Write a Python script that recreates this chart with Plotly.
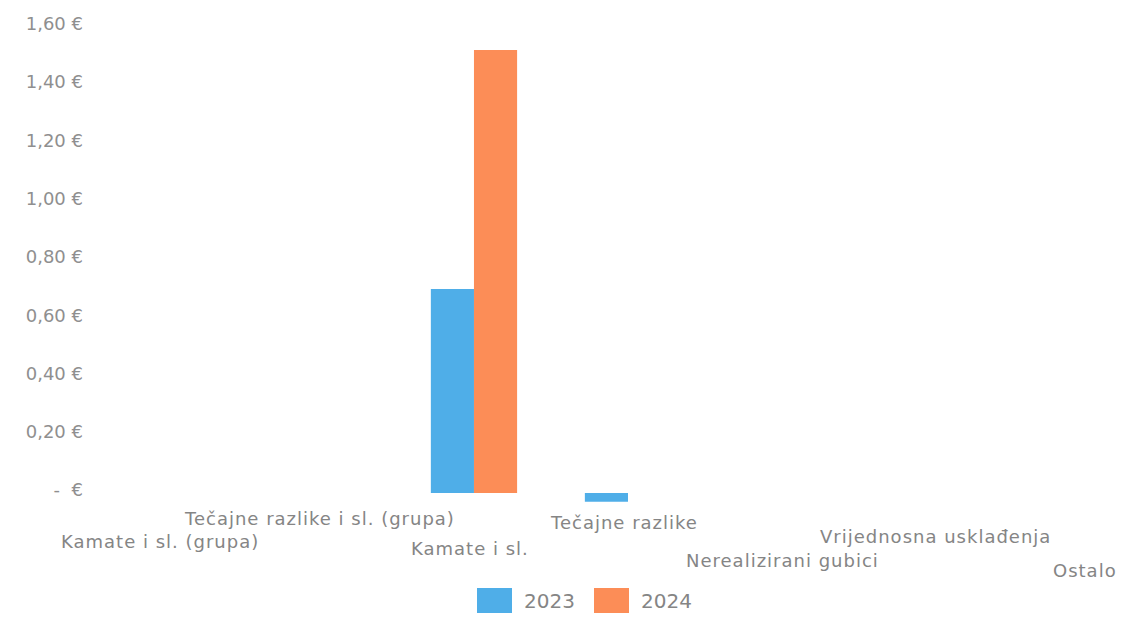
import plotly.graph_objects as go

categories = ["Kamate i sl. (grupa)", "Tečajne razlike i sl. (grupa)", "Kamate i sl.",
              "Tečajne razlike", "Nerealizirani gubici", "Vrijednosna usklađenja", "Ostalo"]
series_names = ["2023", "2024"]
values_2023 = [0, 0, 0.70, -0.03, 0, 0, 0]
values_2024 = [0, 0, 1.52, 0, 0, 0, 0]
tick_vals = [0, 0.2, 0.4, 0.6, 0.8, 1.0, 1.2, 1.4, 1.6]
tick_text = ["-  €", "0,20 €", "0,40 €", "0,60 €", "0,80 €", "1,00 €", "1,20 €", "1,40 €", "1,60 €"]

# staggered label placement (pixels below plot bottom) and horizontal nudges
label_drop = [36, 13, 43, 17, 55, 31, 65]
label_nudge = [-6, 0, -4, -4, 0, -1, -5]

BLUE = "#4FAEE8"
ORANGE = "#FC8D57"
GRAY = "#858585"
TICKGRAY = "#8f8f8f"
FONT = "DejaVu Sans"

W, H = 1123, 617
L, R, T, B = 86, 0, 16, 112
PW, PH = W - L - R, H - T - B


def px_to_paper_x(px):
    return (px - L) / PW


def px_to_paper_y(py):
    return (H - B - py) / PH


def spaced(text, px=1):
    return f'<span style="letter-spacing:{px}px">{text}</span>'


fig = go.Figure()
fig.add_trace(go.Bar(name=series_names[0], x=categories, y=values_2023,
                     marker=dict(color=BLUE, line=dict(width=0))))
fig.add_trace(go.Bar(name=series_names[1], x=categories, y=values_2024,
                     marker=dict(color=ORANGE, line=dict(width=0))))

for cat, drop, nudge in zip(categories, label_drop, label_nudge):
    fig.add_annotation(x=cat, xref="x", y=0, yref="paper", text=spaced(cat), showarrow=False,
                       yanchor="middle", xanchor="center", yshift=-drop, xshift=nudge,
                       font=dict(family=FONT, size=18, color=GRAY))

# manual legend with large swatches
legend_items = [(series_names[0], BLUE, 477), (series_names[1], ORANGE, 594)]
for name, color, x0 in legend_items:
    fig.add_shape(type="rect", xref="paper", yref="paper",
                  x0=px_to_paper_x(x0), x1=px_to_paper_x(x0 + 35),
                  y0=px_to_paper_y(613), y1=px_to_paper_y(588),
                  fillcolor=color, line=dict(width=0))
    fig.add_annotation(x=px_to_paper_x(x0 + 45), xref="paper", y=px_to_paper_y(601), yref="paper",
                       text=name, showarrow=False, xanchor="left", yanchor="middle",
                       font=dict(family=FONT, size=20, color=GRAY))

fig.update_layout(
    width=W, height=H,
    margin=dict(l=L, r=R, t=T, b=B),
    paper_bgcolor="white", plot_bgcolor="white",
    barmode="group", bargap=0.44, bargroupgap=0,
    font=dict(family=FONT, color=GRAY),
    showlegend=False,
    xaxis=dict(showticklabels=False, showgrid=False, zeroline=False, showline=False,
               range=[-0.519, 6.214], automargin=False),
    yaxis=dict(range=[-0.041, 1.637], tickvals=tick_vals, ticktext=tick_text,
               showgrid=False, zeroline=False, showline=False, automargin=False,
               tickfont=dict(family=FONT, size=18, color=TICKGRAY),
               ticklabelstandoff=2, ticklabelshift=-3),
)

fig.write_html("out.html", config={"displayModeBar": False},
               post_script="document.body.style.margin='0';document.body.style.overflow='hidden';")
